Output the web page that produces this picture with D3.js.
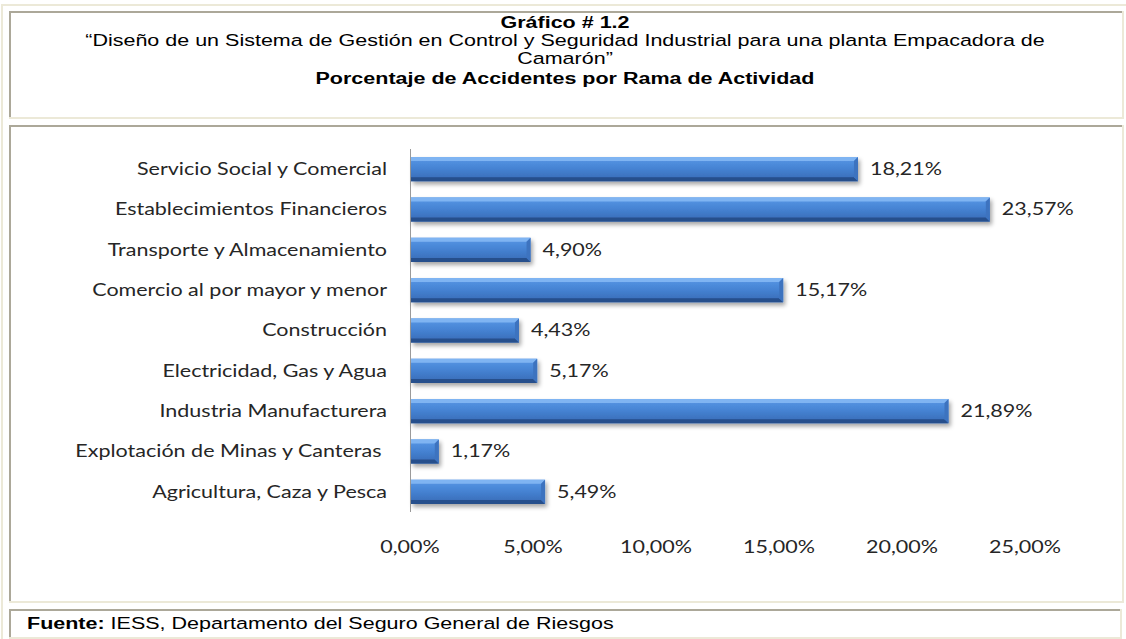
<meta charset="utf-8">
<html>
<head>
<script src="https://cdnjs.cloudflare.com/ajax/libs/d3/7.8.5/d3.min.js"></script>
<style>
body { margin: 0; background: #fff; }
svg text { white-space: pre; }
</style>
</head>
<body>
<svg id="chart" width="1126" height="639"></svg>
<script type="text/javascript">

// data
var categories = ["Servicio Social y Comercial", "Establecimientos Financieros", "Transporte y Almacenamiento",
  "Comercio al por mayor y menor", "Construcción", "Electricidad, Gas y Agua", "Industria Manufacturera",
  "Explotación de Minas y Canteras ", "Agricultura, Caza y Pesca"];
var values = [18.21, 23.57, 4.90, 15.17, 4.43, 5.17, 21.89, 1.17, 5.49];
var tickValues = [0, 5, 10, 15, 20, 25];

var titleLines = ["Gráfico # 1.2",
  "“Diseño de un Sistema de Gestión en Control y Seguridad Industrial para una planta Empacadora de",
  "Camarón”",
  "Porcentaje de Accidentes por Rama de Actividad"];

var svg = d3.select("#chart");
var beige = "#ece9d8", gray = "#aca899";
var sx = 1.265; // the original picture is stretched sideways

function pct(v) { return v.toFixed(2).replace(".", ",") + "%"; }
function at(xx, yy) { return "translate(" + xx + "," + yy + ") scale(" + sx + ",1)"; }

// table borders
function box(x0, y0, x1, y1) {
  svg.append("rect").attr("x", x0).attr("y", y0).attr("width", x1 - x0).attr("height", 2).attr("fill", gray);
  svg.append("rect").attr("x", x0).attr("y", y0).attr("width", 2).attr("height", y1 - y0).attr("fill", gray);
  svg.append("rect").attr("x", x0).attr("y", y1 - 2).attr("width", x1 - x0).attr("height", 2).attr("fill", beige);
  svg.append("rect").attr("x", x1 - 2).attr("y", y0).attr("width", 2).attr("height", y1 - y0).attr("fill", beige);
}
svg.append("rect").attr("x", 1).attr("y", 4).attr("width", 1125).attr("height", 2).attr("fill", beige);
svg.append("rect").attr("x", 1).attr("y", 4).attr("width", 2).attr("height", 635).attr("fill", beige);
box(9, 11, 1124, 119);
box(9, 125, 1124, 603);
box(9, 609, 1122, 639);

// header
var tg = svg.append("g").attr("font-family", "'Liberation Sans', Arial, sans-serif").attr("font-size", 17)
  .attr("text-anchor", "middle").attr("fill", "#000");
var lineY = [28, 46, 64, 84];
titleLines.forEach(function(t, i) {
  tg.append("text").attr("transform", at(565, lineY[i]))
    .attr("font-weight", (i == 0 || i == 3) ? "bold" : "normal").text(t);
});

// footer
var ft = svg.append("text").attr("transform", at(27, 629))
  .attr("font-family", "'Liberation Sans', Arial, sans-serif").attr("font-size", 17).attr("fill", "#000");
ft.append("tspan").attr("font-weight", "bold").text("Fuente:");
ft.append("tspan").text(" IESS, Departamento del Seguro General de Riesgos");

// chart
var x = d3.scaleLinear().domain([0, 25]).range([410, 1025]);
var y = d3.scaleBand().domain(categories).range([149, 512]).paddingInner(0.4).paddingOuter(0.2);

var defs = svg.append("defs");
var grad = defs.append("linearGradient").attr("id", "face").attr("x1", 0).attr("y1", 0).attr("x2", 0).attr("y2", 1);
[["0%", "#5a98e6"], ["45%", "#4684d4"], ["100%", "#3769b4"]].forEach(function(s) {
  grad.append("stop").attr("offset", s[0]).attr("stop-color", s[1]);
});
var sh = defs.append("filter").attr("id", "shadow").attr("x", "-10%").attr("y", "-30%").attr("width", "130%").attr("height", "190%");
sh.append("feDropShadow").attr("dx", 2).attr("dy", 3).attr("stdDeviation", 2)
  .attr("flood-color", "#000").attr("flood-opacity", 0.35);

var font = "Lato, 'Open Sans', sans-serif";
var cg = svg.append("g");

// category axis line
cg.append("line").attr("x1", x(0) + 0.5).attr("x2", x(0) + 0.5)
  .attr("y1", y.range()[0]).attr("y2", y.range()[1]).attr("stroke", "#9a9a9a").attr("stroke-width", 1);

var b = 4;
var bars = cg.selectAll("g.bar").data(categories).enter().append("g").attr("class", "bar")
  .attr("filter", "url(#shadow)");
bars.each(function(c, i) {
  var g = d3.select(this);
  var x0 = x(0) + 1, x1 = x(values[i]), y0 = y(c), y1 = y(c) + y.bandwidth();
  g.append("rect").attr("x", x0).attr("y", y0).attr("width", x1 - x0).attr("height", y1 - y0).attr("fill", "url(#face)");
  g.append("polygon").attr("points", [[x0, y0], [x1, y0], [x1 - b, y0 + b], [x0, y0 + b]].join(" ")).attr("fill", "#7fb4f2");
  g.append("polygon").attr("points", [[x0, y1], [x1, y1], [x1 - b, y1 - b], [x0, y1 - b]].join(" ")).attr("fill", "#264f8c");
  g.append("polygon").attr("points", [[x1, y0], [x1, y1], [x1 - b, y1 - b], [x1 - b, y0 + b]].join(" ")).attr("fill", "#3e73bf");
});

// category labels
cg.selectAll("text.cat").data(categories).enter().append("text").attr("class", "cat")
  .attr("transform", function(d) { return at(387, y(d) + y.bandwidth() / 2); })
  .attr("dy", "0.35em").attr("text-anchor", "end")
  .attr("font-family", font).attr("font-size", 17).attr("fill", "#262626")
  .text(function(d) { return d; });

// value labels
cg.selectAll("text.val").data(categories).enter().append("text").attr("class", "val")
  .attr("transform", function(d, i) { return at(x(values[i]) + 12, y(d) + y.bandwidth() / 2); })
  .attr("dy", "0.35em").attr("font-family", font).attr("font-size", 17).attr("fill", "#262626")
  .text(function(d, i) { return pct(values[i]); });

// x axis tick labels
cg.selectAll("text.tick").data(tickValues).enter().append("text").attr("class", "tick")
  .attr("transform", function(d) { return at(x(d), 547); }).attr("dy", "0.35em")
  .attr("text-anchor", "middle").attr("font-family", font).attr("font-size", 17).attr("fill", "#262626")
  .text(function(d) { return pct(d); });

</script>
</body>
</html>
